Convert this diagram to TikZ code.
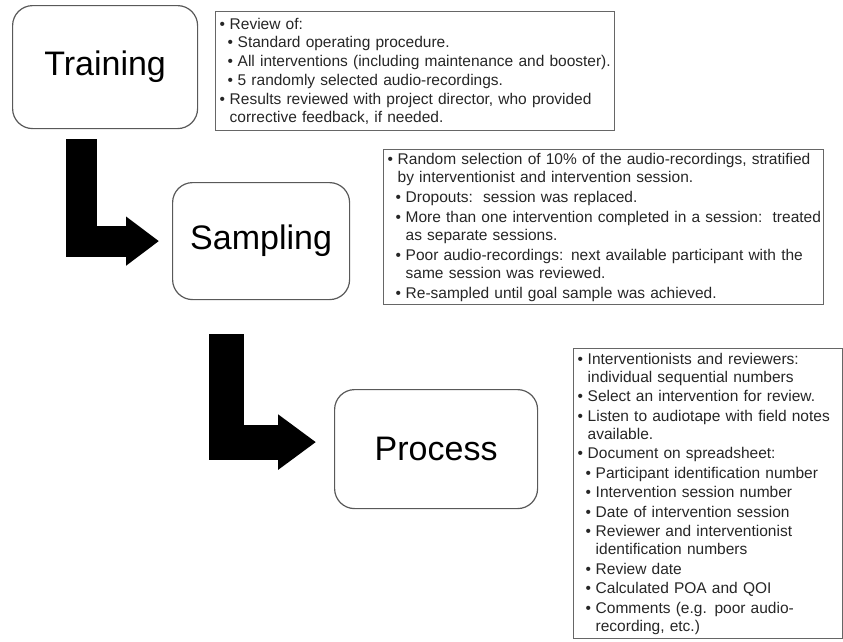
\documentclass[tikz,border=0pt]{standalone}
\usepackage{fontspec}
\setmainfont{Liberation Sans}
\usetikzlibrary{arrows.meta,positioning}

% bullet lines for the note boxes
\newcommand{\bu}[1]{\mbox{\makebox[10pt][l]{\textbullet}#1}}
\newcommand{\bucont}[1]{\mbox{\hspace*{10pt}#1}}
\newcommand{\subbu}[1]{\mbox{\hspace*{8pt}\makebox[10pt][l]{\textbullet}#1}}
\newcommand{\subcont}[1]{\mbox{\hspace*{18pt}#1}}

\begin{document}
\begin{tikzpicture}[
    x=10pt, y=-10pt,
    stage/.style={rectangle, rounded corners=20pt, draw=black!65, line width=1.2pt, anchor=north west, font=\fontsize{34}{40}\selectfont},
    notebox/.style={rectangle, draw=black!60, line width=1.4pt, anchor=north west, align=left, inner xsep=4pt, inner ysep=0pt, text=black!85, font=\fontsize{15.5}{18}\selectfont},
    bigarrow/.style={fill=none, draw=black, line join=miter},
]
    \useasboundingbox (0,0) rectangle (84.3,64.1);

    % Stages
    \node[stage, minimum width=185pt, minimum height=123pt] (train) at (1.2, 0.5) {Training};
    \node[stage, minimum width=177pt, minimum height=117pt] (samp) at (17.2, 18.2) {Sampling};
    \node[stage, minimum width=203pt, minimum height=119pt] (proc) at (33.4, 38.9) {Process};

    % Notes
    \node[notebox, text width=391pt, minimum height=119pt] (trainnote) at (21.5, 1.1) {%
        \bu{Review of:}\\
        \subbu{Standard operating procedure.}\\[1pt]
        \subbu{All interventions (including maintenance and booster).}\\[1pt]
        \subbu{5 randomly selected audio-recordings.}\\[1pt]
        \bu{Results reviewed with project director, who provided}\\
        \bucont{corrective feedback, if needed.}};

    \node[notebox, text width=432pt, minimum height=155pt] (sampnote) at (38.3, 14.9) {%
        \bu{Random selection of 10\% of the audio-recordings, stratified}\\
        \bucont{by interventionist and intervention session.}\\[2pt]
        \subbu{Dropouts:\ \ session was replaced.}\\[2pt]
        \subbu{More than one intervention completed in a session:\ \ treated}\\
        \subcont{as separate sessions.}\\[2pt]
        \subbu{Poor audio-recordings: next available participant with the}\\
        \subcont{same session was reviewed.}\\[2pt]
        \subbu{Re-sampled until goal sample was achieved.}};

    \node[notebox, text width=261pt, minimum height=290pt] (procnote) at (57.3, 34.8) {%
        \bu{Interventionists and reviewers:}\\
        \bucont{individual sequential numbers}\\[1.5pt]
        \bu{Select an intervention for review.}\\[1.5pt]
        \bu{Listen to audiotape with field notes}\\
        \bucont{available.}\\[1.5pt]
        \bu{Document on spreadsheet:}\\[1.5pt]
        \subbu{Participant identification number}\\[1.5pt]
        \subbu{Intervention session number}\\[1.5pt]
        \subbu{Date of intervention session}\\[1.5pt]
        \subbu{Reviewer and interventionist}\\
        \subcont{identification numbers}\\[1.5pt]
        \subbu{Review date}\\[1.5pt]
        \subbu{Calculated POA and QOI}\\[1.5pt]
        \subbu{Comments (e.g. poor audio-}\\
        \subcont{recording, etc.)}};

    % L-shaped arrows between stages
    \draw[bigarrow, line width=31pt, -{Triangle[length=33pt, width=47pt]}]
        ([xshift=-24pt, yshift=-10pt]train.south) |- ([xshift=-13pt]samp.west);
    \draw[bigarrow, line width=35pt, -{Triangle[length=38pt, width=53pt]}]
        ([xshift=-35pt, yshift=-34pt]samp.south) |- ([xshift=-18pt, yshift=7pt]proc.west);
\end{tikzpicture}
\end{document}
